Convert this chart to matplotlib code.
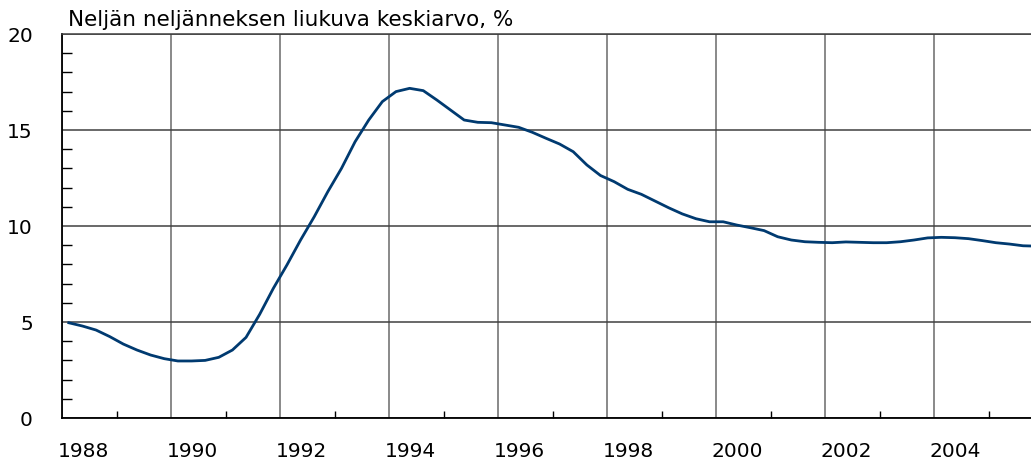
import matplotlib
matplotlib.use("Agg")
import matplotlib.pyplot as plt
import matplotlib.transforms as mtransforms
import numpy as np

# Neljän neljänneksen liukuva keskiarvo, % (neljännesvuosittain, 1988Q1 ->)
first_year = 1988
values = [
    4.96, 4.79, 4.58, 4.24, 3.85, 3.54, 3.28, 3.09,   # 1988-1989
    2.97, 2.97, 3.00, 3.16, 3.54, 4.20, 5.40, 6.75,   # 1990-1991
    7.97, 9.27, 10.48, 11.79, 13.00, 14.39, 15.52, 16.48,  # 1992-1993
    17.00, 17.17, 17.05, 16.56, 16.04, 15.52, 15.40, 15.38,  # 1994-1995
    15.26, 15.14, 14.88, 14.57, 14.27, 13.87, 13.18, 12.63,  # 1996-1997
    12.31, 11.91, 11.65, 11.30, 10.95, 10.63, 10.38, 10.22,  # 1998-1999
    10.22, 10.05, 9.91, 9.76, 9.44, 9.27, 9.18, 9.15,  # 2000-2001
    9.13, 9.17, 9.15, 9.13, 9.13, 9.18, 9.27, 9.38,  # 2002-2003
    9.41, 9.39, 9.34, 9.24, 9.13, 9.06, 8.97, 8.95,  # 2004-2005
]
title = "Neljän neljänneksen liukuva keskiarvo, %"
year_labels = [1988, 1990, 1992, 1994, 1996, 1998, 2000, 2002, 2004]
y_ticks = [0, 5, 10, 15, 20]

# pisteet neljänneksen keskelle
t = first_year + (np.arange(len(values)) + 0.5) / 4.0

fig = plt.figure(figsize=(10.31, 4.61), dpi=100)
ax = fig.add_axes([62 / 1031, 43 / 461, 969 / 1031, 384 / 461])

ax.plot(t, values, color="#003a70", lw=2.0, solid_joinstyle="round")

ax.set_xlim(1988, 2005.77)
ax.set_ylim(0, 20)

ax.set_xticks(year_labels)
ax.set_xticklabels([str(y) for y in year_labels])
ax.set_xticks(np.arange(1989, 2006, 2), minor=True)
ax.set_yticks(y_ticks)
ax.set_yticks(np.arange(0, 21, 1), minor=True)

ax.grid(axis="x", which="major", color="#808080", lw=1.3)
ax.grid(axis="y", which="major", color="#404040", lw=1.1)

ax.tick_params(axis="x", which="major", direction="in", length=0, pad=17,
               labelsize=14.5)
ax.tick_params(axis="x", which="minor", direction="in", length=5, width=1,
               color="black")
ax.tick_params(axis="y", which="major", direction="in", length=0, pad=21,
               labelsize=14.5)
ax.tick_params(axis="y", which="minor", direction="in", length=7, width=1,
               color="black")

# vuosiluvut hieman oikealle
offset = mtransforms.ScaledTranslation(21 / 100, 0, fig.dpi_scale_trans)
for lab in ax.get_xticklabels():
    lab.set_transform(lab.get_transform() + offset)

for s in ["left", "bottom"]:
    ax.spines[s].set_color("black")
    ax.spines[s].set_linewidth(1.3)
ax.spines["right"].set_visible(False)
ax.spines["top"].set_color("#404040")
ax.spines["top"].set_linewidth(1.1)
ax.set_axisbelow(True)

fig.text(68 / 1031, 1 - 20 / 461, title, fontsize=15.5, va="center", ha="left")

fig.savefig("out.png", dpi=100)
